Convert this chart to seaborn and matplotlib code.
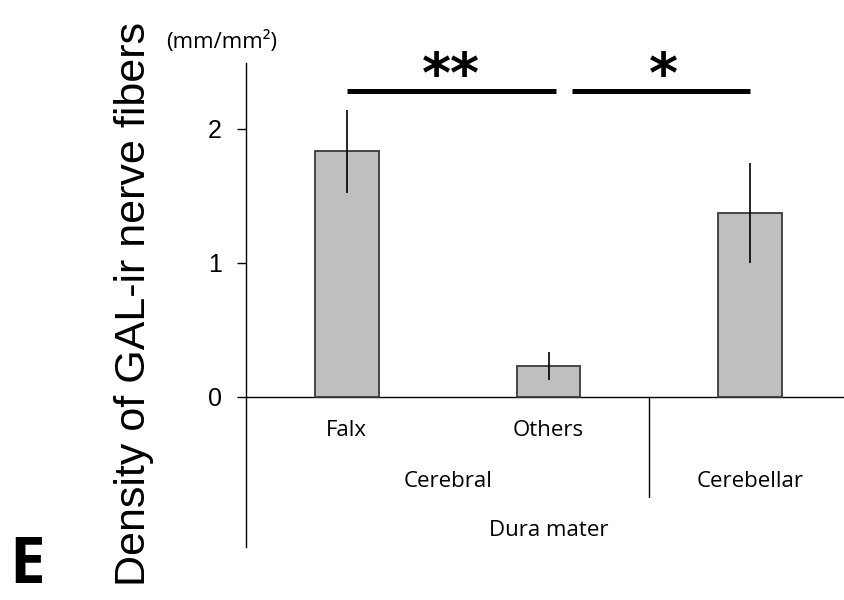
import matplotlib as mpl
import matplotlib.pyplot as plt
import pandas as pd
import seaborn as sns

# data
regions = ["Falx", "Others", "Cerebellar"]
density = [1.83, 0.23, 1.37]
sem = [0.31, 0.105, 0.375]
groups = ["Cerebral", "Cerebellar"]
sig_labels = ["**", "*"]

sns.set_theme(style="white")
plt.rcParams["font.family"] = ["Liberation Sans", "DejaVu Sans"]
plt.rcParams["text.color"] = "black"
plt.rcParams["ytick.color"] = "black"
LABEL_FONT = ["Open Sans", "DejaVu Sans"]

df = pd.DataFrame({"region": regions, "density": density})

fig = plt.figure(figsize=(8.45, 6.0), dpi=100)
ax = fig.add_axes([246 / 845, 53 / 600, 599 / 845, 484 / 600])

sns.barplot(data=df, x="region", y="density", color="#bfbfbf", width=0.315,
            edgecolor="#3a3a3a", linewidth=1.3, errorbar=None, saturation=1, ax=ax)
ax.errorbar(range(len(regions)), density, yerr=sem, fmt="none",
            ecolor="black", elinewidth=1.2, capsize=0)

ax.set_xlim(-0.5, 2.47)
ax.set_ylim(-1.12, 2.49)
ax.set_yticks([0, 1, 2])
ax.set_yticklabels(["0", "1", "2"], fontsize=18)
ax.set_xticks([])
ax.set_xlabel("")
ax.set_ylabel("")
for s in ["top", "right", "bottom"]:
    ax.spines[s].set_visible(False)
ax.spines["left"].set_color("black")
ax.spines["left"].set_linewidth(1.0)
ax.tick_params(axis="y", left=True, length=6.5, width=1.0, pad=11, color="black")
ax.axhline(0, color="black", linewidth=1.0, zorder=0)

# category dividers and labels below the bars
ax.plot([1.5, 1.5], [0, -0.75], color="black", linewidth=1.0, clip_on=False)
for i, r in enumerate(regions[:2]):
    ax.text(i, -0.25, r, ha="center", va="center", fontsize=16, family=LABEL_FONT)
ax.text(0.5, -0.63, groups[0], ha="center", va="center", fontsize=16, family=LABEL_FONT)
ax.text(2.0, -0.63, groups[1], ha="center", va="center", fontsize=16, family=LABEL_FONT)
ax.text(1.0, -1.0, "Dura mater", ha="center", va="center", fontsize=16, family=LABEL_FONT)

# significance bars
ax.plot([0, 1.035], [2.28, 2.28], color="black", linewidth=3.6, solid_capstyle="butt", clip_on=False)
ax.plot([1.116, 2.0], [2.28, 2.28], color="black", linewidth=3.6, solid_capstyle="butt", clip_on=False)
for label, xc in zip(sig_labels, [0.514, 1.571]):
    n = len(label)
    for k in range(n):
        xs = xc + (k - (n - 1) / 2) * 0.135
        ax.text(xs, 2.27, "*", ha="center", va="baseline", fontsize=40,
                fontweight="bold", family="DejaVu Sans")

fig.text(145 / 845, 296 / 600, "Density of GAL-ir nerve fibers", rotation=90,
         rotation_mode="anchor", ha="center", va="baseline", fontsize=31)
fig.text(222 / 845, 558 / 600, "(mm/mm²)", ha="center", va="center", fontsize=16, family=LABEL_FONT)
fig.text(27 / 845, 1 / 600, "E", ha="center", va="bottom", fontsize=46, fontweight="bold",
         family=LABEL_FONT)

fig.savefig("out.png", dpi=100)
